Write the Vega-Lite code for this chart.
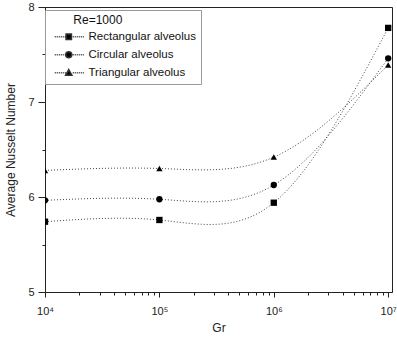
{
  "$schema": "https://vega.github.io/schema/vega-lite/v6.json",
  "width": 347,
  "height": 285,
  "autosize": "none",
  "padding": {"left": 45, "top": 7, "right": 5, "bottom": 45},
  "background": "white",
  "config": {
    "font": "Liberation Sans",
    "view": {"stroke": "#222", "strokeWidth": 1},
    "axis": {"domainColor": "#222", "tickColor": "#222", "labelColor": "#222", "titleColor": "#222", "grid": false, "labelFont": "Liberation Sans", "titleFont": "Liberation Sans", "titleFontWeight": "normal"}
  },
  "data": {
    "values": [
      {"Gr": 10000, "Nu": 5.74, "series": "Rectangular alveolus"},
      {"Gr": 100000, "Nu": 5.758, "series": "Rectangular alveolus"},
      {"Gr": 1000000, "Nu": 5.94, "series": "Rectangular alveolus"},
      {"Gr": 10000000, "Nu": 7.78, "series": "Rectangular alveolus"},
      {"Gr": 10000, "Nu": 5.965, "series": "Circular alveolus"},
      {"Gr": 100000, "Nu": 5.976, "series": "Circular alveolus"},
      {"Gr": 1000000, "Nu": 6.126, "series": "Circular alveolus"},
      {"Gr": 10000000, "Nu": 7.46, "series": "Circular alveolus"},
      {"Gr": 10000, "Nu": 6.28, "series": "Triangular alveolus"},
      {"Gr": 100000, "Nu": 6.30, "series": "Triangular alveolus"},
      {"Gr": 1000000, "Nu": 6.42, "series": "Triangular alveolus"},
      {"Gr": 10000000, "Nu": 7.39, "series": "Triangular alveolus"}
    ]
  },
  "encoding": {
    "x": {
      "field": "Gr", "type": "quantitative",
      "scale": {"type": "log", "domain": [10000, 10800000], "nice": false},
      "axis": {
        "title": "Gr", "titleFontSize": 12, "titlePadding": 6,
        "values": [10000,20000,30000,40000,50000,60000,70000,80000,90000,100000,200000,300000,400000,500000,600000,700000,800000,900000,1000000,2000000,3000000,4000000,5000000,6000000,7000000,8000000,9000000,10000000],
        "labelExpr": "datum.value == 10000 ? '10⁴' : datum.value == 100000 ? '10⁵' : datum.value == 1000000 ? '10⁶' : datum.value == 10000000 ? '10⁷' : ''",
        "labelFontSize": 11, "labelPadding": 8, "labelOverlap": false, "labelFlush": false,
        "tickSize": {"condition": {"test": "datum.value == 10000 || datum.value == 100000 || datum.value == 1000000 || datum.value == 10000000", "value": 5}, "value": 3}
      }
    },
    "y": {
      "field": "Nu", "type": "quantitative",
      "scale": {"domain": [5, 8], "nice": false, "zero": false},
      "axis": {
        "title": "Average Nusselt Number", "titleFontSize": 12, "titlePadding": 10,
        "values": [5, 5.5, 6, 6.5, 7, 7.5, 8],
        "labelExpr": "datum.value % 1 == 0 ? '' + datum.value : ''",
        "labelFontSize": 11, "labelPadding": 4,
        "tickSize": {"condition": {"test": "datum.value % 1 == 0", "value": 7}, "value": 3}
      }
    }
  },
  "resolve": {"scale": {"shape": "independent"}},
  "layer": [
    {
      "mark": {"type": "line", "interpolate": "natural", "strokeDash": [1, 2], "color": "#444", "strokeWidth": 1, "clip": true},
      "encoding": {"detail": {"field": "series"}}
    },
    {
      "mark": {"type": "point", "filled": true, "color": "black", "opacity": 1, "size": 40, "clip": true},
      "encoding": {
        "shape": {
          "field": "series", "type": "nominal",
          "scale": {"domain": ["Rectangular alveolus", "Circular alveolus", "Triangular alveolus"], "range": ["square", "circle", "triangle-up"]},
          "legend": null
        }
      }
    },
    {
      "transform": [{"filter": "false"}],
      "mark": {"type": "point", "filled": true, "fill": "black", "stroke": "#333", "strokeWidth": 1, "opacity": 1},
      "encoding": {
        "shape": {
          "field": "series", "type": "nominal",
          "scale": {"domain": ["Rectangular alveolus", "Circular alveolus", "Triangular alveolus"], "range": [
            "M3.43,-0.9h1.8v1.8h-1.8zM-0.33,0h0.33M0.33,0h0.33M1,0h0.33M1.67,0h0.33M2.33,0h0.33M3,0h0.33M5.67,0h0.33M6.33,0h0.33M7,0h0.33M7.67,0h0.33M8.33,0h0.33M9,0h0.33",
            "M3.33,0A1,1 0 1,1 5.33,0A1,1 0 1,1 3.33,0ZM-0.33,0h0.33M0.33,0h0.33M1,0h0.33M1.67,0h0.33M2.33,0h0.33M3,0h0.33M5.67,0h0.33M6.33,0h0.33M7,0h0.33M7.67,0h0.33M8.33,0h0.33M9,0h0.33",
            "M4.33,-1.05L5.38,0.8L3.28,0.8ZM-0.33,0h0.33M0.33,0h0.33M1,0h0.33M1.67,0h0.33M2.33,0h0.33M3,0h0.33M5.67,0h0.33M6.33,0h0.33M7,0h0.33M7.67,0h0.33M8.33,0h0.33M9,0h0.33"
          ]},
          "legend": {
            "title": "\u200b\u00a0\u00a0\u00a0\u00a0\u00a0\u00a0\u00a0Re=1000", "orient": "none", "legendX": 0, "legendY": 3,
            "padding": 5, "strokeColor": "#999", "fillColor": "white",
            "titleFontSize": 12, "titleFontWeight": "normal", "titleFont": "Liberation Sans", "titleColor": "#111",
            "labelFontSize": 11.5, "labelFont": "Liberation Sans", "labelColor": "#111",
            "symbolSize": 36, "labelOffset": 27, "rowPadding": 5, "titlePadding": 4
          }
        }
      }
    }
  ]
}
